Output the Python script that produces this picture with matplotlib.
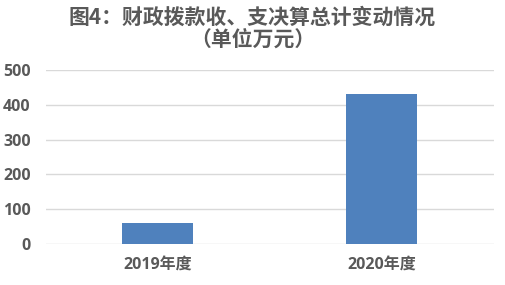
import matplotlib
matplotlib.use("Agg")
import matplotlib.pyplot as plt

# data
categories = ["2019年度", "2020年度"]
values = [61, 431]
yticks = [0, 100, 200, 300, 400, 500]
title = "图4：财政拨款收、支决算总计变动情况\n（单位万元）"

plt.rcParams["font.family"] = ["Open Sans", "Noto Sans CJK SC", "DejaVu Sans"]

fig = plt.figure(figsize=(5.05, 2.85), dpi=100)
ax = fig.add_axes([0.091, 0.144, 0.887, 0.61])

x = range(len(categories))
ax.bar(x, values, width=0.317, color="#4f81bd", zorder=3)

ax.set_xlim(-0.5, len(categories) - 0.5)
ax.set_ylim(0, 500)
ax.set_yticks(yticks)
ax.set_xticks(list(x))
ax.set_xticklabels(categories)
ax.grid(axis="y", color="#d9d9d9", linewidth=1, zorder=0)
for s in ax.spines.values():
    s.set_visible(False)
ax.tick_params(length=0, colors="#595959", labelsize=11.5)
ax.tick_params(axis="x", pad=10)
ax.tick_params(axis="y", pad=11)
for lab in ax.get_xticklabels() + ax.get_yticklabels():
    lab.set_fontweight("bold")

fig.text(0.5, 0.978, title, ha="center", va="top", fontsize=15,
         fontweight="bold", color="#595959", linespacing=1.1,
         family=["Noto Sans CJK SC", "DejaVu Sans"])

fig.savefig("out.png", dpi=100)
